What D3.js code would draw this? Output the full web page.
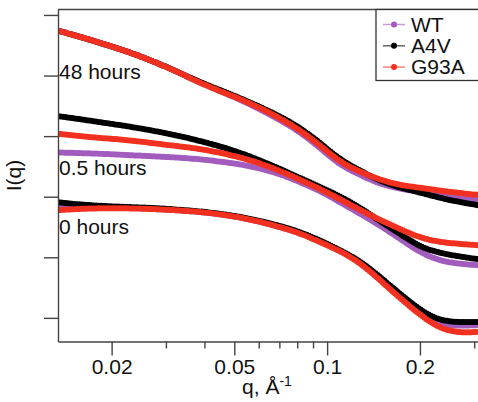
<!DOCTYPE html>
<html>
<head>
<meta charset="utf-8">
<script src="https://cdn.jsdelivr.net/npm/d3@7"></script>
<style>
  body { margin: 0; background: #fff; }
  svg { display: block; font-family: "Liberation Sans", Arial, sans-serif; }
  .axis path, .axis line { stroke: #444; stroke-width: 1.4px; }
  .axis text { font-size: 21px; fill: #111; font-family: "Liberation Sans", Arial, sans-serif; }
</style>
</head>
<body>
<svg id="chart" width="478" height="402"></svg>
<script>
// q values (A^-1) shared by every curve
var qValues = [0.0134, 0.0158, 0.0183, 0.0221, 0.0266, 0.0321, 0.0387, 0.0466, 0.0562, 0.0703,
               0.0816, 0.0948, 0.110, 0.128, 0.148, 0.172, 0.200, 0.232, 0.270, 0.3086];

var seriesNames = ["WT", "A4V", "G93A"];
var timeLabels = ["0 hours", "0.5 hours", "48 hours"];

// log I(q), offset per time point (arbitrary units)
var wt0   = [2.86, 2.85, 2.83, 2.82, 2.80, 2.78, 2.75, 2.70, 2.63, 2.50, 2.40, 2.27, 2.11, 1.92, 1.64, 1.36, 1.08, 0.88, 0.87, 0.88];
var a4v0  = [2.91, 2.87, 2.85, 2.83, 2.82, 2.79, 2.76, 2.71, 2.64, 2.52, 2.42, 2.28, 2.12, 1.94, 1.68, 1.40, 1.13, 0.95, 0.93, 0.93];
var g93a0 = [2.78, 2.80, 2.81, 2.81, 2.80, 2.78, 2.75, 2.70, 2.63, 2.50, 2.40, 2.25, 2.11, 1.91, 1.63, 1.33, 1.05, 0.82, 0.75, 0.77];

var wt05   = [3.73, 3.72, 3.71, 3.69, 3.67, 3.65, 3.62, 3.57, 3.51, 3.38, 3.24, 3.10, 2.91, 2.72, 2.53, 2.31, 2.08, 1.94, 1.89, 1.87];
var a4v05  = [4.33, 4.28, 4.23, 4.17, 4.10, 4.02, 3.92, 3.81, 3.67, 3.46, 3.31, 3.16, 3.01, 2.82, 2.60, 2.39, 2.17, 2.07, 2.01, 1.97];
var g93a05 = [4.04, 4.00, 3.97, 3.94, 3.89, 3.84, 3.79, 3.71, 3.61, 3.43, 3.28, 3.13, 2.96, 2.78, 2.62, 2.47, 2.32, 2.25, 2.22, 2.20];

var wt48   = [5.74, 5.64, 5.54, 5.41, 5.26, 5.08, 4.88, 4.71, 4.53, 4.27, 4.07, 3.81, 3.52, 3.36, 3.21, 3.13, 3.08, 3.03, 2.98, 2.95];
var a4v48  = [5.74, 5.64, 5.54, 5.41, 5.26, 5.08, 4.89, 4.73, 4.56, 4.33, 4.14, 3.89, 3.61, 3.43, 3.26, 3.15, 3.07, 2.98, 2.91, 2.86];
var g93a48 = [5.74, 5.64, 5.54, 5.41, 5.26, 5.08, 4.88, 4.71, 4.55, 4.30, 4.10, 3.85, 3.57, 3.41, 3.28, 3.19, 3.15, 3.10, 3.06, 3.03];

var yTicks = [1, 2, 3, 4, 5, 6];
var xMajor = [0.02, 0.05, 0.1, 0.2];
var xMinor = [0.03, 0.04, 0.06, 0.07, 0.08, 0.09, 0.3];

var colors = { "WT": "#a25cbd", "A4V": "#000000", "G93A": "#f2301f" };

var svg = d3.select("#chart"),
    width = +svg.attr("width"),
    height = +svg.attr("height");

var pLeft = 58, pTop = 9.5, pRight = 478, pBottom = 341.5;

var x = d3.scaleLog().domain([0.0134, 0.3086]).range([pLeft, pRight]);
var y = d3.scaleLinear().domain([0.61, 6.09]).range([pBottom, pTop]);

svg.append("clipPath").attr("id", "plotclip")
  .append("rect").attr("x", pLeft).attr("y", pTop).attr("width", pRight - pLeft).attr("height", pBottom - pTop);

// curves: purple first, then black, red on top
var groups = [
  { name: "WT", sets: [wt0, wt05, wt48] },
  { name: "A4V", sets: [a4v0, a4v05, a4v48] },
  { name: "G93A", sets: [g93a0, g93a05, g93a48] }
];

var line = d3.line()
    .x(function(d) { return x(d[0]); })
    .y(function(d) { return y(d[1]); })
    .curve(d3.curveBasis);

var curves = svg.append("g").attr("clip-path", "url(#plotclip)");
groups.forEach(function(g) {
  g.sets.forEach(function(vals) {
    var pts = qValues.map(function(q, i) { return [q, vals[i]]; });
    curves.append("path")
      .attr("d", line(pts))
      .attr("fill", "none")
      .attr("stroke", colors[g.name])
      .attr("stroke-width", 4.6);
    curves.append("path")
      .attr("d", line(pts))
      .attr("fill", "none")
      .attr("stroke", colors[g.name])
      .attr("stroke-width", 6)
      .attr("stroke-linecap", "round")
      .attr("stroke-dasharray", "0 2.4");
  });
});

// axes
svg.append("g").attr("class", "axis")
  .attr("transform", "translate(" + pLeft + ",0)")
  .call(d3.axisLeft(y).tickValues(yTicks).tickSize(14).tickSizeOuter(0).tickFormat(""));

var xAxis = svg.append("g").attr("class", "axis")
  .attr("transform", "translate(0," + pBottom + ")")
  .call(d3.axisBottom(x).tickValues(xMajor).tickSize(14).tickSizeOuter(0)
        .tickPadding(4).tickFormat(d3.format("")));
xAxis.selectAll("text").attr("dy", "0.71em");

svg.append("g").attr("class", "axis")
  .attr("transform", "translate(0," + pBottom + ")")
  .call(d3.axisBottom(x).tickValues(xMinor).tickSize(7).tickSizeOuter(0).tickFormat(""))
  .select(".domain").remove();

// top frame line
svg.append("line")
  .attr("x1", pLeft).attr("x2", pRight).attr("y1", pTop).attr("y2", pTop)
  .attr("stroke", "#444").attr("stroke-width", 1.4);

// axis titles
svg.append("text")
  .attr("transform", "translate(21," + (pTop + pBottom) / 2 + ") rotate(-90)")
  .attr("text-anchor", "middle")
  .attr("font-size", 21)
  .attr("fill", "#111")
  .text("I(q)");

var xt = svg.append("text")
  .attr("x", 267).attr("y", 394)
  .attr("text-anchor", "middle")
  .attr("font-size", 21)
  .attr("fill", "#111");
xt.append("tspan").text("q, \u00C5");
xt.append("tspan").attr("dy", -8).attr("font-size", 14).text("-1");

// time point labels
var labelY = [2.39, 3.36, 4.94];
timeLabels.forEach(function(t, i) {
  svg.append("text")
    .attr("x", pLeft + 1)
    .attr("y", y(labelY[i]))
    .attr("font-size", 21)
    .attr("fill", "#111")
    .text(t);
});

// legend
var legend = svg.append("g");
legend.append("rect")
  .attr("x", 376).attr("y", pTop).attr("width", 110).attr("height", 71)
  .attr("fill", "#fff").attr("stroke", "#333").attr("stroke-width", 1.3);

seriesNames.forEach(function(n, i) {
  var ly = 24.5 + i * 21.3;
  legend.append("line")
    .attr("x1", 383).attr("x2", 405).attr("y1", ly).attr("y2", ly)
    .attr("stroke", colors[n]).attr("stroke-width", 1.5).attr("opacity", 0.6);
  legend.append("circle")
    .attr("cx", 394).attr("cy", ly).attr("r", 3)
    .attr("fill", colors[n]);
  legend.append("text")
    .attr("x", 411).attr("y", ly + 7)
    .attr("font-size", 21)
    .attr("fill", "#111")
    .text(n);
});
</script>
</body>
</html>
